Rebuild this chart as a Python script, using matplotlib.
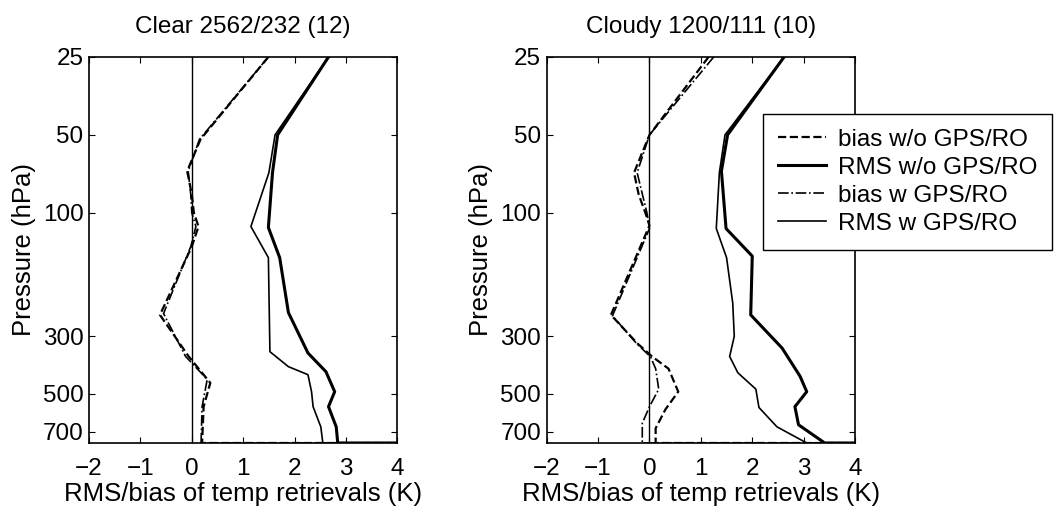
import matplotlib
matplotlib.use("Agg")
import matplotlib.pyplot as plt
from matplotlib.ticker import FixedLocator, NullLocator

plt.rcParams['font.family'] = ['Liberation Sans', 'DejaVu Sans']

# --- data (pressure in hPa, values in K) ---
# clear sky panel
clr_rms_wo_p = [25, 50, 70, 114, 149, 243, 348, 411, 491, 561, 671, 775, 775]
clr_rms_wo = [2.66, 1.67, 1.57, 1.49, 1.71, 1.88, 2.26, 2.61, 2.78, 2.66, 2.81, 2.84, 6]
clr_rms_w_p = [25, 50, 70, 113, 149, 344, 393, 422, 491, 561, 671, 775, 775]
clr_rms_w = [2.66, 1.62, 1.50, 1.15, 1.49, 1.52, 1.88, 2.26, 2.33, 2.36, 2.51, 2.55, 6]
clr_bias_wo_p = [25, 52, 69, 85, 100, 113, 135, 248, 359, 454, 561, 775, 775]
clr_bias_wo = [1.49, 0.17, -0.09, 0.0, 0.04, 0.13, 0.0, -0.62, -0.06, 0.36, 0.23, 0.2, 6]
clr_bias_w_p = [25, 52, 69, 85, 100, 113, 135, 245, 359, 440, 561, 775, 775]
clr_bias_w = [1.49, 0.15, -0.07, -0.02, 0.0, 0.08, -0.02, -0.55, -0.12, 0.30, 0.20, 0.18, 6]

# cloudy panel
cld_rms_wo_p = [25, 50, 69, 115, 147, 248, 333, 428, 491, 561, 659, 775, 775]
cld_rms_wo = [2.62, 1.52, 1.40, 1.49, 2.0, 1.97, 2.58, 2.93, 3.06, 2.83, 2.90, 3.41, 6]
cld_rms_w_p = [25, 50, 70, 115, 149, 223, 300, 359, 415, 480, 565, 671, 775, 775]
cld_rms_w = [2.62, 1.47, 1.36, 1.30, 1.50, 1.62, 1.65, 1.56, 1.72, 2.07, 2.13, 2.48, 3.06, 6]
cld_bias_wo_p = [25, 50, 70, 85, 100, 112, 248, 319, 359, 400, 491, 575, 680, 775, 775]
cld_bias_wo = [1.15, 0.0, -0.30, -0.21, -0.08, 0.0, -0.75, -0.24, 0.05, 0.37, 0.56, 0.31, 0.12, 0.12, 6]
cld_bias_w_p = [25, 50, 70, 100, 115, 250, 320, 360, 400, 480, 561, 650, 775, 775]
cld_bias_w = [1.25, 0.0, -0.24, -0.05, 0.0, -0.72, -0.25, 0.02, 0.12, 0.18, 0.0, -0.14, -0.14, 6]

titles = ["Clear 2562/232 (12)", "Cloudy 1200/111 (10)"]
labels = ["bias w/o GPS/RO", "RMS w/o GPS/RO", "bias w GPS/RO", "RMS w GPS/RO"]
p_ticks = [25, 50, 100, 300, 500, 700]
x_ticks = [-2, -1, 0, 1, 2, 3, 4]

panels = [
    (clr_bias_wo_p, clr_bias_wo, clr_rms_wo_p, clr_rms_wo,
     clr_bias_w_p, clr_bias_w, clr_rms_w_p, clr_rms_w),
    (cld_bias_wo_p, cld_bias_wo, cld_rms_wo_p, cld_rms_wo,
     cld_bias_w_p, cld_bias_w, cld_rms_w_p, cld_rms_w),
]

fig = plt.figure(figsize=(10.56, 5.21), dpi=100)
lefts = [0.0843, 0.5177]
fs = 17.5

for i, (bwo_p, bwo, rwo_p, rwo, bw_p, bw, rw_p, rw) in enumerate(panels):
    ax = fig.add_axes([lefts[i], 0.1497, 0.292, 0.741])
    h1, = ax.plot(bwo, bwo_p, color='k', ls='--', lw=1.6)
    h2, = ax.plot(rwo, rwo_p, color='k', ls='-', lw=2.2)
    h3, = ax.plot(bw, bw_p, color='k', ls='-.', lw=1.2)
    h4, = ax.plot(rw, rw_p, color='k', ls='-', lw=1.2)
    ax.axvline(0, color='k', lw=1.0)
    ax.set_yscale('log')
    ax.set_ylim(775, 25)
    ax.set_xlim(-2, 4)
    ax.yaxis.set_major_locator(FixedLocator(p_ticks))
    ax.yaxis.set_minor_locator(NullLocator())
    ax.set_yticklabels([str(p) for p in p_ticks])
    ax.set_xticks(x_ticks)
    ax.tick_params(direction='in', top=True, right=True, labelsize=fs,
                   length=4, width=0.8)
    ax.tick_params(axis='x', pad=11)
    ax.tick_params(axis='y', pad=4)
    for s in ax.spines.values():
        s.set_linewidth(1.2)
    ax.set_title(titles[i], fontsize=fs, pad=17)
    ax.set_ylabel("Pressure (hPa)", fontsize=fs + 1, labelpad=5)
    ax.set_xlabel("RMS/bias of temp retrievals (K)", fontsize=fs + 1, labelpad=1)

fig.legend([h1, h2, h3, h4], labels, loc='upper left',
           bbox_to_anchor=(0.7225, 0.781), fontsize=fs, fancybox=False,
           edgecolor='k', framealpha=1, borderaxespad=0, handlelength=2.0,
           labelspacing=0.25, borderpad=0.6, handletextpad=0.5)

fig.savefig("out.png", dpi=100)
